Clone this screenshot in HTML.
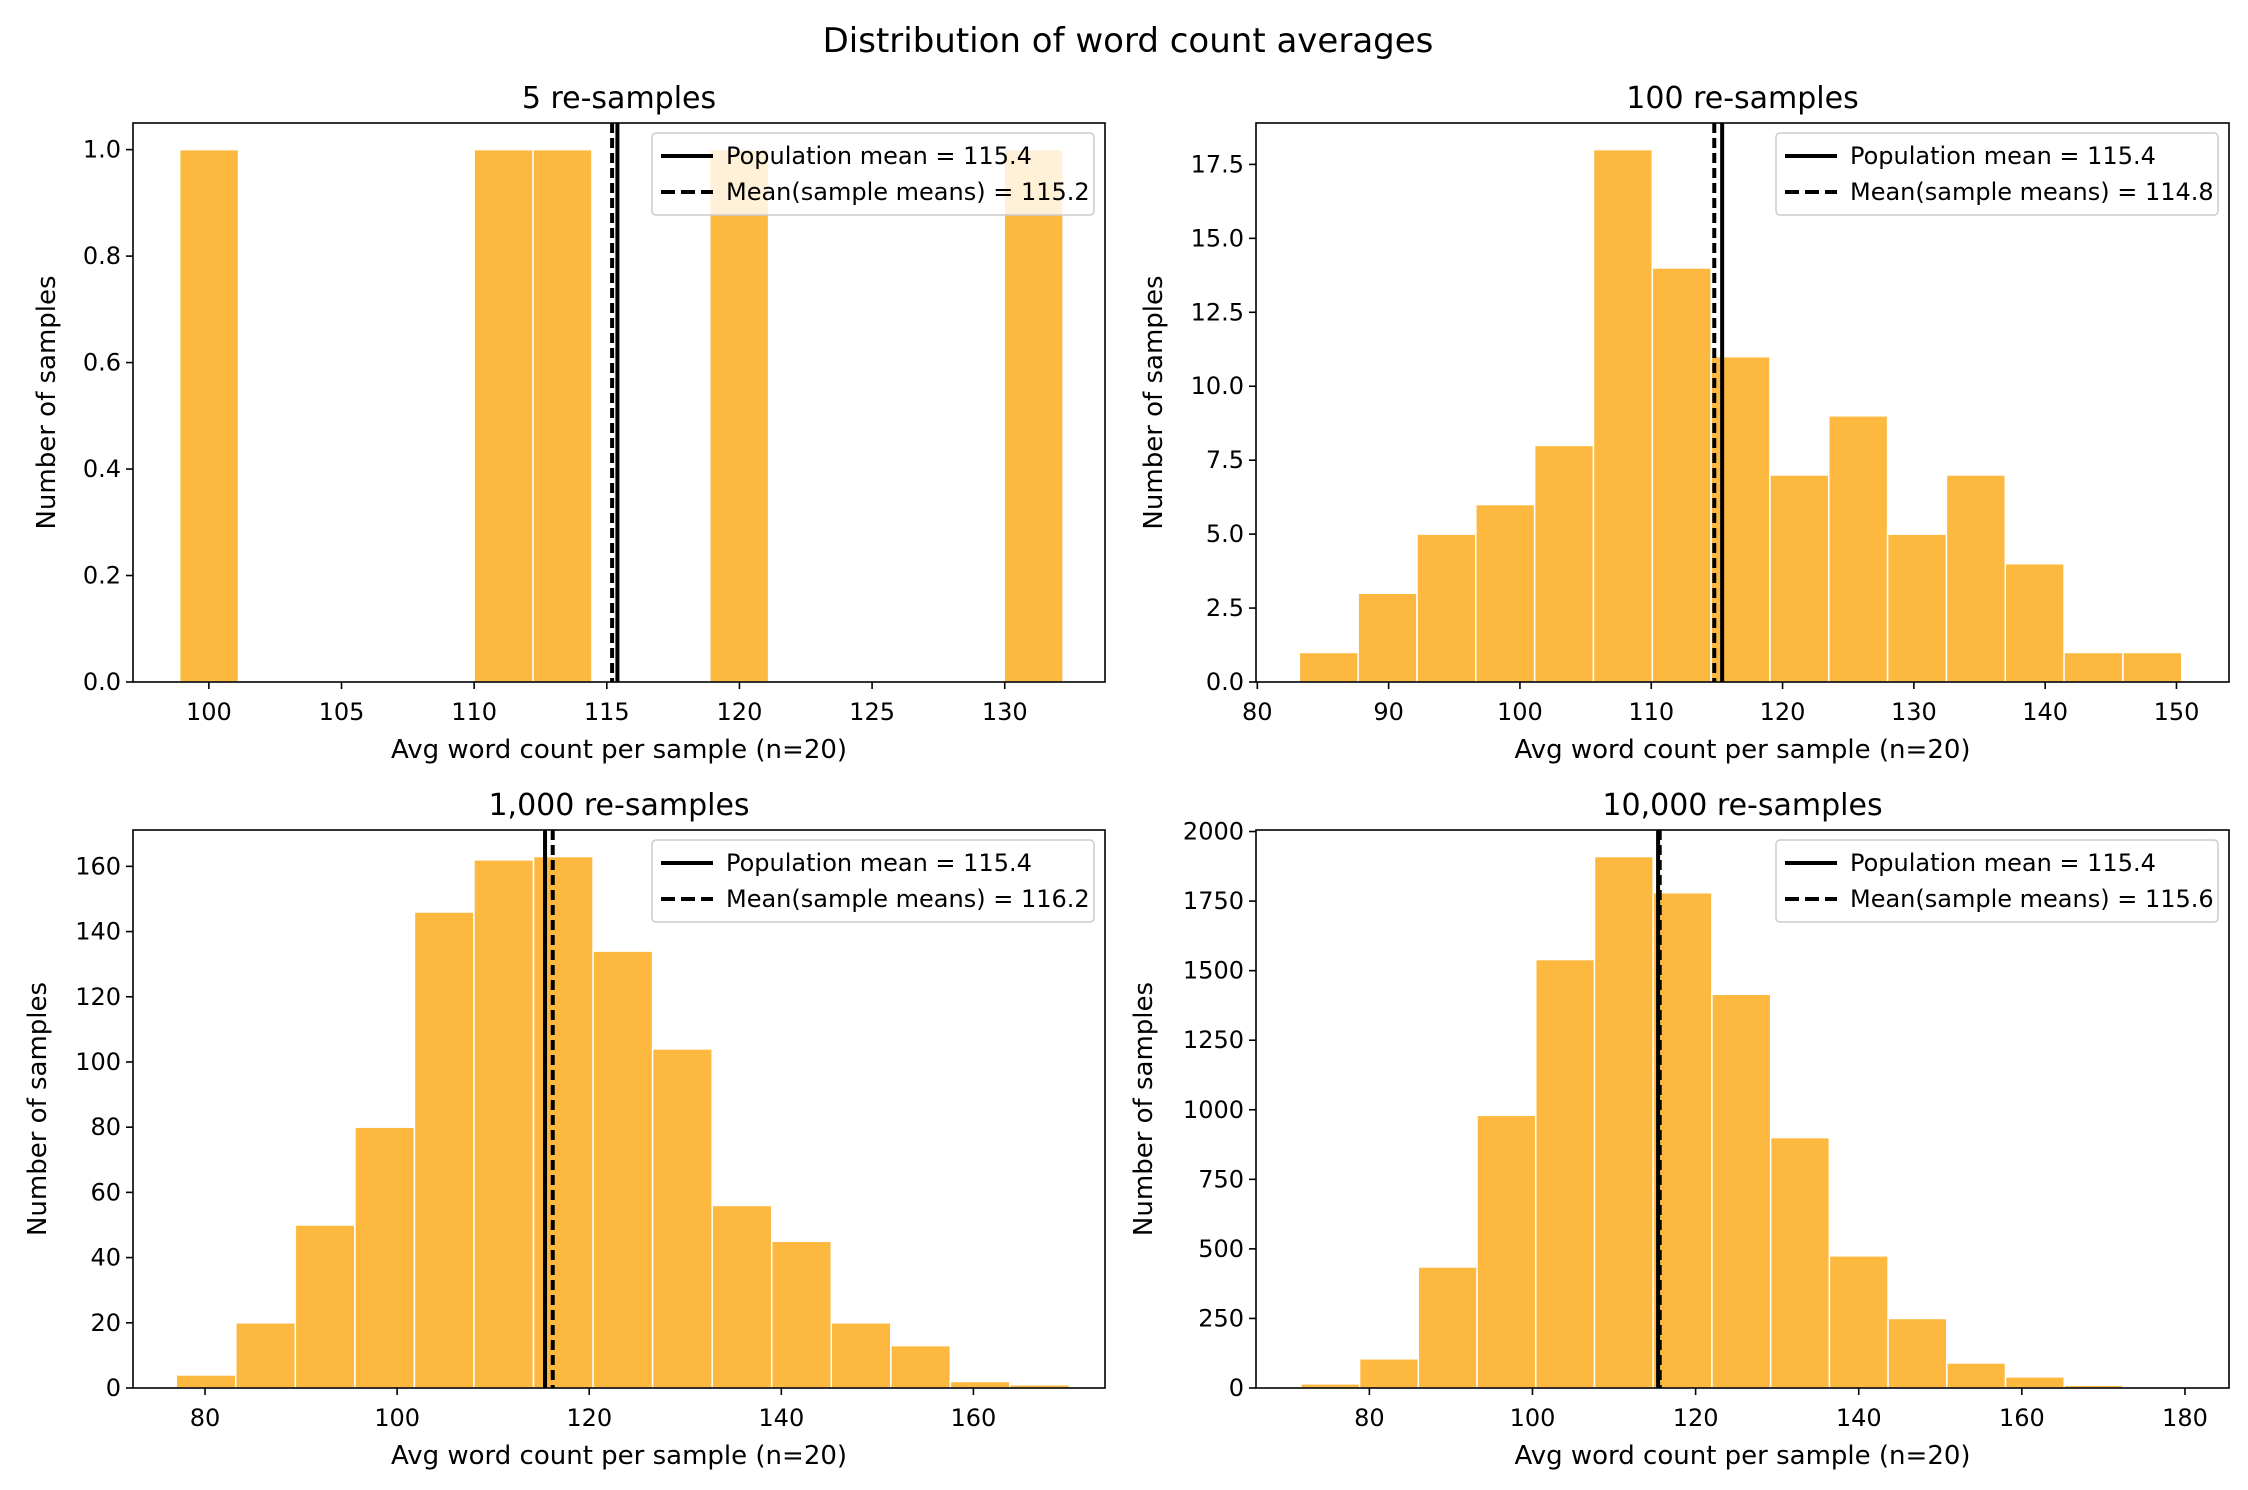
<!DOCTYPE html>
<html><head><meta charset="utf-8"><style>
html,body{margin:0;padding:0;background:#fff;}
svg{display:block;font-family:"DejaVu Sans","Liberation Sans",sans-serif;}
</style></head><body>
<svg id="fig" width="2248" height="1490" viewBox="0 0 2248 1490" xmlns="http://www.w3.org/2000/svg">
<text x="1128" y="52" font-size="34" text-anchor="middle" fill="#000">Distribution of word count averages</text>
</svg>
<script>
// Panel data
const titles = ["5 re-samples", "100 re-samples", "1,000 re-samples", "10,000 re-samples"];
const binStarts = [98.9, 83.2, 77.0, 71.6];
const binWidths = [2.22, 4.48, 6.2, 7.2];
const counts5 = [1,0,0,0,0,1,1,0,0,1,0,0,0,0,1];
const counts100 = [1,3,5,6,8,18,14,11,7,9,5,7,4,1,1];
const counts1000 = [4,20,50,80,146,162,163,134,104,56,45,20,13,2,1];
const counts10000 = [15,105,435,980,1540,1910,1780,1415,900,475,250,90,40,10,3];
const popMeans = [115.4, 115.4, 115.4, 115.4];
const sampleMeans = [115.2, 114.8, 116.2, 115.6];
const xTicks5 = [100,105,110,115,120,125,130];
const xTicks100 = [80,90,100,110,120,130,140,150];
const xTicks1000 = [80,100,120,140,160];
const xTicks10000 = [80,100,120,140,160,180];
const yTicks5 = ["0.0","0.2","0.4","0.6","0.8","1.0"];
const yTicks100 = ["0.0","2.5","5.0","7.5","10.0","12.5","15.0","17.5"];
const yTicks1000 = ["0","20","40","60","80","100","120","140","160"];
const yTicks10000 = ["0","250","500","750","1000","1250","1500","1750","2000"];
const xDomains = [[97.14,133.78],[79.9,154.0],[72.5,173.7],[66.1,185.4]];

const allCounts = [counts5, counts100, counts1000, counts10000];
const allXTicks = [xTicks5, xTicks100, xTicks1000, xTicks10000];
const allYTicks = [yTicks5, yTicks100, yTicks1000, yTicks10000];
const boxes = [
  {x0:133,x1:1105,y0:123,y1:682,ylx:46},
  {x0:1256,x1:2229,y0:123,y1:682,ylx:1153},
  {x0:133,x1:1105,y0:830,y1:1388,ylx:37},
  {x0:1256,x1:2229,y0:830,y1:1388,ylx:1143}
];
const NS = "http://www.w3.org/2000/svg";
const svg = document.getElementById('fig');
function mk(tag, attrs, parent){
  const e = document.createElementNS(NS, tag);
  for (const k in attrs) e.setAttribute(k, attrs[k]);
  (parent||svg).appendChild(e);
  return e;
}
for (let p=0;p<4;p++){
  const b = boxes[p];
  const counts = allCounts[p];
  const ymax = Math.max(...counts)*1.05;
  const [d0,d1] = xDomains[p];
  const X = v => b.x0 + (v-d0)/(d1-d0)*(b.x1-b.x0);
  const Y = v => b.y1 - v/ymax*(b.y1-b.y0);
  const g = mk('g',{});
  
  
  const t = mk('text',{x:(b.x0+b.x1)/2,y:b.y0-15,'font-size':30,'text-anchor':'middle'},g);
  t.textContent = titles[p];
  
  
  for (let i=0;i<counts.length;i++){
    if (counts[i]<=0) continue;
    const xs = binStarts[p]+i*binWidths[p];
    const r = mk('rect',{x:X(xs),y:Y(counts[i]),width:X(xs+binWidths[p])-X(xs),height:Y(0)-Y(counts[i]),fill:'#fdb93f',stroke:'#fff','stroke-width':1.5},g);
    
    
  }
  const l1 = mk('line',{x1:X(popMeans[p]),x2:X(popMeans[p]),y1:b.y0,y2:b.y1,stroke:'#000','stroke-width':4},g);
  
  
  const l2 = mk('line',{x1:X(sampleMeans[p]),x2:X(sampleMeans[p]),y1:b.y0,y2:b.y1,stroke:'#000','stroke-width':4,'stroke-dasharray':'10 5'},g);
  
  
  // legend
  const lg = mk('g',{},g);
  
  
  const lx = b.x1-453, ly = b.y0+10;
  mk('rect',{x:lx,y:ly,width:442,height:82,rx:4,fill:'#fff','fill-opacity':0.8,stroke:'#ccc','stroke-width':1.5},lg);
  mk('line',{x1:lx+9,x2:lx+61,y1:ly+23,y2:ly+23,stroke:'#000','stroke-width':4},lg);
  mk('line',{x1:lx+9,x2:lx+61,y1:ly+59,y2:ly+59,stroke:'#000','stroke-width':4,'stroke-dasharray':'14 6'},lg);
  const e1 = mk('text',{x:lx+74,y:ly+31,'font-size':24},lg);
  e1.textContent = 'Population mean = '+popMeans[p].toFixed(1);
  
  
  const e2 = mk('text',{x:lx+74,y:ly+67,'font-size':24},lg);
  e2.textContent = 'Mean(sample means) = '+sampleMeans[p].toFixed(1);
  
  
  // spines
  const fr = mk('rect',{x:b.x0,y:b.y0,width:b.x1-b.x0,height:b.y1-b.y0,fill:'none',stroke:'#000','stroke-width':1.6},g);
  
  
  // x ticks
  for (const v of allXTicks[p]){
    const x = X(v);
    mk('line',{x1:x,x2:x,y1:b.y1,y2:b.y1+7,stroke:'#000','stroke-width':1.6},g);
    const tl = mk('text',{x:x,y:b.y1+38,'font-size':24,'text-anchor':'middle'},g);
    tl.textContent = v;
    
    
  }
  // y ticks
  for (const s of allYTicks[p]){
    const y = Y(parseFloat(s));
    mk('line',{x1:b.x0-7,x2:b.x0,y1:y,y2:y,stroke:'#000','stroke-width':1.6},g);
    const tl = mk('text',{x:b.x0-12,y:y+8,'font-size':24,'text-anchor':'end'},g);
    tl.textContent = s;
    
    
  }
  const xl = mk('text',{x:(b.x0+b.x1)/2,y:b.y1+76,'font-size':26,'text-anchor':'middle'},g);
  xl.textContent = 'Avg word count per sample (n=20)';
  
  
  const yc = (b.y0+b.y1)/2;
  const yl = mk('text',{x:b.ylx+9,y:yc,'font-size':26,'text-anchor':'middle',transform:'rotate(-90 '+(b.ylx+9)+' '+yc+')'},g);
  yl.textContent = 'Number of samples';
  
  
}
</script>
</body></html>
